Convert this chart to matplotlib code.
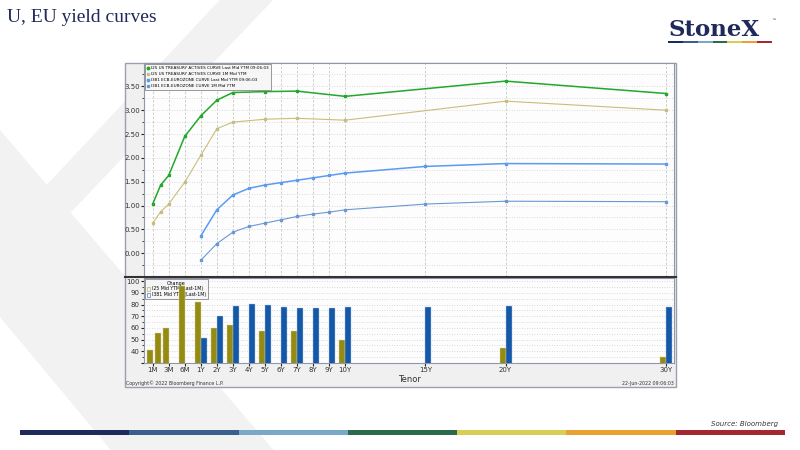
import numpy as np
import matplotlib
matplotlib.use('Agg')
import matplotlib.pyplot as plt
from matplotlib.patches import Rectangle, Polygon, Patch
from matplotlib.lines import Line2D
from matplotlib.ticker import MultipleLocator, FixedLocator

# ---------------- data ----------------
tick_tenors = ['1M', '3M', '6M', '1Y', '2Y', '3Y', '4Y', '5Y', '6Y', '7Y', '8Y', '9Y',
               '10Y', '15Y', '20Y', '30Y']

us_tenors = ['1M', '2M', '3M', '6M', '1Y', '2Y', '3Y', '5Y', '7Y', '10Y', '20Y', '30Y']
us_last = [1.03, 1.43, 1.63, 2.45, 2.88, 3.21, 3.37, 3.39, 3.40, 3.29, 3.61, 3.35]
us_1m = [0.63, 0.87, 1.03, 1.49, 2.05, 2.61, 2.75, 2.81, 2.83, 2.79, 3.19, 3.00]

eu_tenors = ['1Y', '2Y', '3Y', '4Y', '5Y', '6Y', '7Y', '8Y', '9Y', '10Y', '15Y', '20Y', '30Y']
eu_last = [0.36, 0.91, 1.22, 1.36, 1.43, 1.48, 1.53, 1.58, 1.63, 1.68, 1.82, 1.88, 1.87]
eu_1m = [-0.15, 0.20, 0.44, 0.56, 0.63, 0.70, 0.77, 0.82, 0.86, 0.91, 1.03, 1.09, 1.08]

us_change = [41.5, 55.3, 60.0, 96.0, 82.6, 60.0, 62.5, 57.6, 57.0, 49.5, 42.6, 35.1]
eu_change = [51.0, 70.0, 78.6, 80.3, 79.4, 78.2, 77.4, 77.4, 77.4, 77.6, 78.0, 78.6, 78.0]

legend_top = ['I25 US TREASURY ACTIVES CURVE Last Mid YTM 09:06:03',
              'I25 US TREASURY ACTIVES CURVE 1M Mid YTM',
              'I381 ECB-EUROZONE CURVE Last Mid YTM 09:06:03',
              'I381 ECB-EUROZONE CURVE 1M Mid YTM']
legend_bottom = ['I25 Mid YTM (Last-1M)', 'I381 Mid YTM (Last-1M)']


def tenor_years(t):
    n = float(t[:-1])
    return n / 12.0 if t.endswith('M') else n


# Bloomberg tenor axis: money-market points evenly spaced, linear in years from 1Y
knots_years = [1 / 12, 1 / 4, 1 / 2, 1, 30]
knots_slots = [0, 1, 2, 3, 32]


def pos(tenors):
    return np.interp([tenor_years(t) for t in tenors], knots_years, knots_slots)


# ---------------- colours ----------------
c_green = '#22a82a'
c_khaki = '#c9bd7c'
c_blue = '#5b9bf0'
c_lblue = '#6a98d4'
c_bar_us = '#968b12'
c_bar_eu = '#1658a8'
navy = '#1f2a5a'
band_colors = ['#1f2a5c', '#3a5f8c', '#7aa8c8', '#2b6a4c', '#d8cd55', '#e9a131', '#a3282f']

fig = plt.figure(figsize=(8, 4.5), dpi=100)
fig.patch.set_facecolor('white')

# background / slide decorations (pixel coordinates)
bg = fig.add_axes([0, 0, 1, 1])
bg.set_xlim(0, 800)
bg.set_ylim(450, 0)
bg.axis('off')

wm = '#f2f2f2'
bg.add_patch(Polygon([(0, 130), (273.5, 450), (110.8, 450), (0, 317)], closed=True,
                     fc=wm, ec='none'))
bg.add_patch(Polygon([(46.7, 185), (219.6, 0), (273, 0), (70, 213.3), (55, 240)],
                     closed=True, fc=wm, ec='none'))

bg.add_patch(Rectangle((125, 63), 551, 324, fc='#f0f0f0', ec='#9aa0b0', lw=1.0))

bg.text(7, 17, 'U, EU yield curves', family='Liberation Serif', fontsize=14,
        color=navy, va='center', ha='left')

bg.text(668, 36, 'StoneX', family='DejaVu Serif', fontsize=16.5, fontweight='bold',
        color=navy, va='baseline', ha='left')
bg.text(771, 21, '\u2122', fontsize=3.5, color=navy, ha='left', va='center')
seg = (772 - 668) / 7
for i, c in enumerate(band_colors):
    bg.add_patch(Rectangle((668 + i * seg, 41.2), seg, 2.0, fc=c, ec='none'))

seg = (785 - 20) / 7
for i, c in enumerate(band_colors):
    bg.add_patch(Rectangle((20 + i * seg, 430), seg, 5, fc=c, ec='none'))

bg.text(778, 424, 'Source: Bloomberg', fontsize=5, style='italic', color='#333333',
        ha='right', va='center')

# ---------------- top panel: yield curves ----------------
ax1 = fig.add_axes([144 / 800, 1 - 277 / 450, (674.3 - 144) / 800, (277 - 63) / 450])
ax1.set_facecolor('#fdfdfd')
for s in ax1.spines.values():
    s.set_color('#9098a8')
    s.set_linewidth(0.8)

ax1.plot(pos(us_tenors), us_last, color=c_green, lw=1.1, marker='s', ms=2.0, zorder=5)
ax1.plot(pos(us_tenors), us_1m, color=c_khaki, lw=0.8, marker='s', ms=1.5, zorder=4)
ax1.plot(pos(eu_tenors), eu_last, color=c_blue, lw=1.1, marker='s', ms=2.0, zorder=5)
ax1.plot(pos(eu_tenors), eu_1m, color=c_lblue, lw=0.8, marker='s', ms=1.5, zorder=4)

ax1.set_xlim(-0.54, 32.52)
ax1.set_ylim(-0.5, 3.99)
ax1.yaxis.set_major_locator(FixedLocator(np.arange(0, 3.51, 0.5)))
ax1.yaxis.set_minor_locator(MultipleLocator(0.25))
ax1.yaxis.set_major_formatter(matplotlib.ticker.FormatStrFormatter('%.2f'))
ax1.set_xticks(pos(tick_tenors))
ax1.set_xticklabels([])
ax1.tick_params(axis='x', length=0)
ax1.tick_params(axis='y', which='major', labelsize=5, length=2, width=0.8, color='#222222',
                labelcolor='#333333', pad=1)
ax1.tick_params(axis='y', which='minor', length=1.5, width=0.6, color='#222222')
ax1.grid(axis='x', which='major', ls=(0, (3, 2)), color='#c8c8c8', lw=0.6)
ax1.grid(axis='y', which='both', ls=(0, (1, 2)), color='#cfcfcf', lw=0.6)
ax1.set_axisbelow(True)

h_top = [Line2D([], [], ls='none', marker='o', ms=1.8, color=c_green),
         Line2D([], [], ls='none', marker='s', ms=1.4, color=c_khaki),
         Line2D([], [], ls='none', marker='o', ms=1.8, color=c_blue),
         Line2D([], [], ls='none', marker='s', ms=1.4, color=c_lblue)]
lg = ax1.legend(h_top, legend_top, loc='upper left', fontsize=3.0, frameon=True,
                fancybox=False, edgecolor='#888888', facecolor='#f6f6f6', framealpha=1,
                borderpad=0.5, labelspacing=0.5, handlelength=0.6, handletextpad=0.4,
                borderaxespad=0.25)
lg.get_frame().set_linewidth(0.6)

# ---------------- bottom panel: changes ----------------
ax2 = fig.add_axes([144 / 800, 1 - 363 / 450, (674.3 - 144) / 800, (363 - 278) / 450])
ax2.set_facecolor('#fdfdfd')
for s in ax2.spines.values():
    s.set_color('#9098a8')
    s.set_linewidth(0.8)

ax2.bar(pos(us_tenors), us_change, width=-0.375, align='edge', color=c_bar_us,
        edgecolor='#d6d09a', lw=0.3, zorder=3)
ax2.bar(pos(eu_tenors), eu_change, width=0.375, align='edge', color=c_bar_eu,
        edgecolor='#a8c4ea', lw=0.3, zorder=3)

ax2.set_xlim(-0.54, 32.52)
ax2.set_ylim(30, 102.8)
ax2.set_yticks(np.arange(30, 101, 10))
ax2.set_yticklabels([''] + [str(v) for v in range(40, 101, 10)])
ax2.yaxis.set_minor_locator(MultipleLocator(5))
ax2.set_xticks(pos(tick_tenors))
ax2.set_xticklabels(tick_tenors)
ax2.tick_params(axis='both', which='major', labelsize=5, length=2, width=0.8,
                color='#222222', labelcolor='#333333', pad=1)
ax2.tick_params(axis='y', which='minor', length=1.5, width=0.6, color='#222222')
ax2.grid(axis='y', which='both', ls=(0, (1, 2)), color='#cfcfcf', lw=0.6)
ax2.set_axisbelow(True)
ax2.set_xlabel('Tenor', fontsize=6, color='#333333', labelpad=1)

h_bot = [Patch(facecolor='none', edgecolor='#c9bd7c', lw=0.6),
         Patch(facecolor='none', edgecolor='#6a98d4', lw=0.6)]
lg2 = ax2.legend(h_bot, legend_bottom, title='Change', loc='upper left', fontsize=3.3,
                 title_fontsize=3.5, frameon=True, fancybox=False, edgecolor='#888888',
                 facecolor='#f6f6f6', framealpha=1, borderpad=0.3, labelspacing=0.2,
                 handlelength=0.8, handleheight=0.8, handletextpad=0.4, borderaxespad=0.25)
lg2.get_frame().set_linewidth(0.6)
lg2.set_zorder(2)

# separator and footer texts
fig.add_artist(Line2D([125 / 800, 676 / 800], [1 - 277.3 / 450] * 2,
                      transform=fig.transFigure, color='#333333', lw=1.5))
fig.text(126 / 800, 1 - 383 / 450, 'Copyright\u00a9 2022 Bloomberg Finance L.P.',
         fontsize=3.4, color='#333333', ha='left', va='center')
fig.text(674 / 800, 1 - 383 / 450, '22-Jun-2022 09:06:03', fontsize=3.4,
         color='#333333', ha='right', va='center')

fig.savefig('out.png', dpi=100)
